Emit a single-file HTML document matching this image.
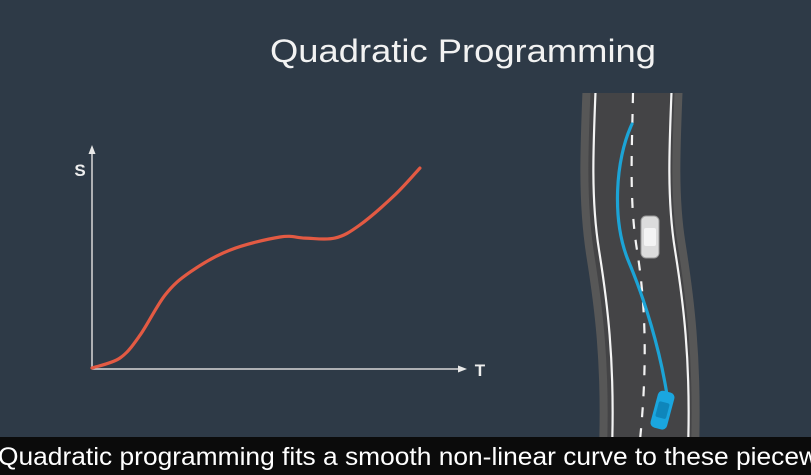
<!DOCTYPE html>
<html><head><meta charset="utf-8">
<style>
html,body{margin:0;padding:0;width:811px;height:475px;overflow:hidden;background:#2e3a47;}
svg{display:block}
</style></head>
<body>
<svg id="scene" width="811" height="475" viewBox="0 0 811 475" xmlns="http://www.w3.org/2000/svg">
  <rect x="0" y="0" width="811" height="475" fill="#2e3a47"/>
  <text x="463" y="62" text-anchor="middle" font-family="'Liberation Sans', sans-serif" font-size="32" fill="#f2f2f2" textLength="386" lengthAdjust="spacingAndGlyphs">Quadratic Programming</text>

  <g id="chart">
    <line x1="92" y1="369" x2="92" y2="152" stroke="#d8d8d8" stroke-width="1.5"/>
    <polygon points="92,145 88.5,154 95.5,154" fill="#e8e8e8"/>
    <line x1="92" y1="369" x2="460" y2="369" stroke="#d8d8d8" stroke-width="1.5"/>
    <polygon points="467,369 458,365.5 458,372.5" fill="#e8e8e8"/>
    <text x="80" y="176" text-anchor="middle" font-family="'Liberation Sans', sans-serif" font-weight="bold" font-size="17" fill="#eeeeee">S</text>
    <text x="480" y="376" text-anchor="middle" font-family="'Liberation Sans', sans-serif" font-weight="bold" font-size="17" fill="#eeeeee">T</text>
    <path id="scurve" fill="none" stroke="#e35a43" stroke-width="3.2" stroke-linecap="round"/>
  </g>

  <g id="road">
    <clipPath id="roadclip"><rect x="500" y="93" width="311" height="344"/></clipPath>
    <g clip-path="url(#roadclip)">
    <path d="M633,80 C630,150 628,200 636,250 C644,300 652,360 649,450" fill="none" stroke="#575757" stroke-width="100"/>
    <path d="M633,80 C630,150 628,200 636,250 C644,300 652,360 649,450" fill="none" stroke="#444446" stroke-width="84"/>
    <path d="M596,80 C593,150 591,200 599,250 C607,300 615,360 612,450" fill="none" stroke="#f4f4f4" stroke-width="2.2"/>
    <path d="M672,80 C669,150 667,200 675,250 C683,300 691,360 688,450" fill="none" stroke="#f4f4f4" stroke-width="2.2"/>
    <path d="M633,93 C632,150 629,200 637,250 C645,300 648,360 640,440" fill="none" stroke="#f4f4f4" stroke-width="2.2" stroke-dasharray="10,11"/>
    </g>
    <path d="M632,124 C615,160 612,220 628,260 C645,300 660,350 667,395" fill="none" stroke="#1ca4d6" stroke-width="3.2" stroke-linecap="round"/>
    <g>
      <rect x="641" y="216" width="18" height="42" rx="5" fill="#dcdcdc" stroke="#9a9a9a" stroke-width="1"/>
      <rect x="644" y="228" width="12" height="18" rx="2" fill="#f4f4f4"/>
    </g>
    <g transform="rotate(15 662 410)">
      <rect x="654" y="391" width="17" height="38" rx="5" fill="#1aa6df"/>
      <rect x="657" y="402" width="11" height="16" rx="2" fill="#0e86bb"/>
    </g>
  </g>

  <rect x="0" y="437" width="811" height="38" fill="#0b0b0b"/>
  <text x="-2" y="465" font-family="'Liberation Sans', sans-serif" font-size="25" fill="#ffffff" textLength="820" lengthAdjust="spacingAndGlyphs">Quadratic programming fits a smooth non-linear curve to these piecew</text>
</svg>
<script>
const tValues = [0, 0.75, 1.29, 1.96, 2.63, 3.7, 5.04, 5.71, 6.51, 7.18, 8.12, 8.79];
const sValues = [0, 0.46, 1.51, 3.35, 4.4, 5.41, 6.01, 5.96, 5.96, 6.56, 7.94, 9.17];
const tDomain = [0, 10];
const sDomain = [0, 10];

function xScale(t){ return 92 + (t - tDomain[0]) / (tDomain[1] - tDomain[0]) * 373; }
function yScale(s){ return 368 - (s - sDomain[0]) / (sDomain[1] - sDomain[0]) * 218; }

(function(){
  const pts = tValues.map((t,i)=>[xScale(t), yScale(sValues[i])]);
  let d = 'M' + pts[0][0].toFixed(1) + ',' + pts[0][1].toFixed(1);
  for (let i=0;i<pts.length-1;i++){
    const p0 = pts[Math.max(0,i-1)], p1 = pts[i], p2 = pts[i+1], p3 = pts[Math.min(pts.length-1,i+2)];
    const c1x = p1[0] + (p2[0]-p0[0])/6, c1y = p1[1] + (p2[1]-p0[1])/6;
    const c2x = p2[0] - (p3[0]-p1[0])/6, c2y = p2[1] - (p3[1]-p1[1])/6;
    d += ' C' + c1x.toFixed(1)+','+c1y.toFixed(1)+' '+c2x.toFixed(1)+','+c2y.toFixed(1)+' '+p2[0].toFixed(1)+','+p2[1].toFixed(1);
  }
  const path = document.getElementById('scurve');
  path.setAttribute('d', d);
})();
</script>
</body></html>
